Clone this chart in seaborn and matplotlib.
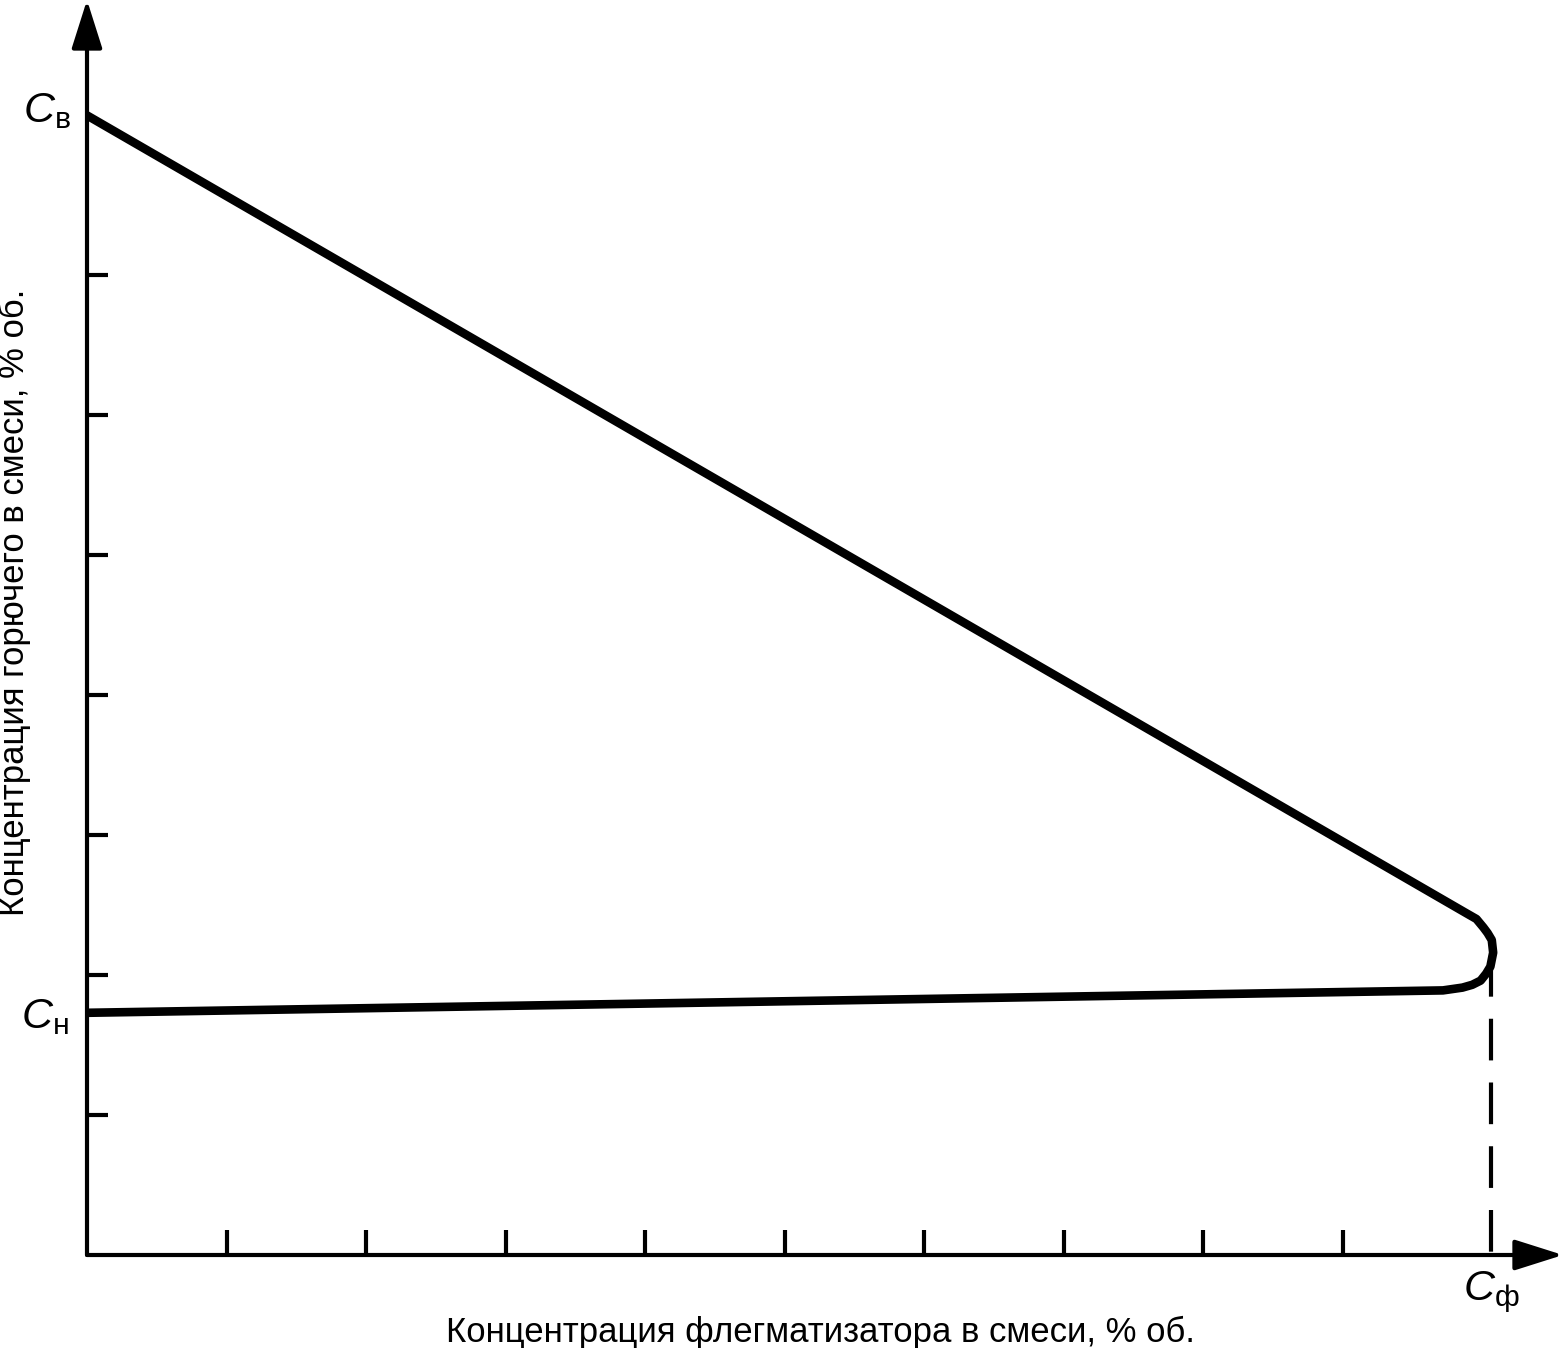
import numpy as np
import pandas as pd
import matplotlib
matplotlib.use('Agg')
import matplotlib.pyplot as plt
import seaborn as sns

# boundary of the flammable region
curve_x = [0, 9.89, 9.96, 10.01, 10.04, 10.07, 10.08, 10.06, 10.03, 9.99, 9.93, 9.86, 9.72, 0]
curve_y = [8.14, 2.44, 2.40, 2.34, 2.30, 2.25, 2.16, 2.06, 2.01, 1.96, 1.93, 1.91, 1.89, 1.73]

c_upper = 8.14     # C_в
c_lower = 1.73     # C_н
c_phleg = 10.065   # C_ф
nose_y = 2.14

x_ticks = [1, 2, 3, 4, 5, 6, 7, 8, 9]
y_ticks = [1, 2, 3, 4, 5, 6, 7]

x_label = 'Концентрация флегматизатора в смеси, % об.'
y_label = 'Концентрация горючего в смеси, % об.'

sns.set_style('ticks')
plt.rcParams['font.family'] = ['Liberation Sans', 'DejaVu Sans']
plt.rcParams['text.color'] = 'black'
plt.rcParams['axes.labelcolor'] = 'black'
plt.rcParams['mathtext.fontset'] = 'custom'
plt.rcParams['mathtext.rm'] = 'Liberation Sans'
plt.rcParams['mathtext.it'] = 'Liberation Sans:italic'

fig = plt.figure(figsize=(15.63, 13.48), dpi=100)
ax = fig.add_axes([87 / 1563, 93 / 1348, 1476 / 1563, 1255 / 1348])

df = pd.DataFrame({'x': curve_x, 'y': curve_y})
sns.lineplot(data=df, x='x', y='y', sort=False, estimator=None, color='black',
             lw=6.2, ax=ax, solid_joinstyle='round', solid_capstyle='round')

# dashed drop line to C_ф
ax.plot([c_phleg, c_phleg], [nose_y, 0], color='black', lw=3,
        dashes=(10, 5.3), solid_capstyle='butt')

ax.set_xlim(0, 1476 / 139.5)
ax.set_ylim(0, 1255 / 140)

for s in ax.spines.values():
    s.set_visible(False)

arrow = dict(arrowstyle='-|>,head_length=3.0,head_width=0.95', mutation_scale=10,
             lw=3, color='black', shrinkA=0, shrinkB=0)
ax.annotate('', xy=(1, 0), xytext=(0, 0), xycoords='axes fraction',
            arrowprops=arrow, annotation_clip=False)
ax.annotate('', xy=(0, 1), xytext=(0, 0), xycoords='axes fraction',
            arrowprops=arrow, annotation_clip=False)

ax.set_xticks(x_ticks)
ax.set_yticks(y_ticks)
ax.set_xticklabels([])
ax.set_yticklabels([])
ax.tick_params(axis='x', direction='in', length=18, width=3, color='black')
ax.tick_params(axis='y', direction='in', length=15, width=3, color='black')

ax.set_xlabel(x_label, fontsize=25, va='center', ha='center', color='black')
ax.xaxis.set_label_coords((820 - 87) / 1476, (1255 - 1332) / 1255)
ax.set_ylabel(y_label, fontsize=25, va='center', ha='center', color='black')
ax.yaxis.set_label_coords((14 - 87) / 1476, (1255 - 602) / 1255)

ax.annotate(r'$\mathit{C}_{\mathrm{в}}$', xy=(0, c_upper), xytext=(-12, 3),
            textcoords='offset points', ha='right', va='center', fontsize=31,
            annotation_clip=False)
ax.annotate(r'$\mathit{C}_{\mathrm{н}}$', xy=(0, c_lower), xytext=(-13.5, -3),
            textcoords='offset points', ha='right', va='center', fontsize=31,
            annotation_clip=False)
ax.annotate(r'$\mathit{C}_{\mathrm{ф}}$', xy=(c_phleg, 0), xytext=(0, -27),
            textcoords='offset points', ha='center', va='center', fontsize=31,
            annotation_clip=False)

plt.savefig('out.png', dpi=100)
